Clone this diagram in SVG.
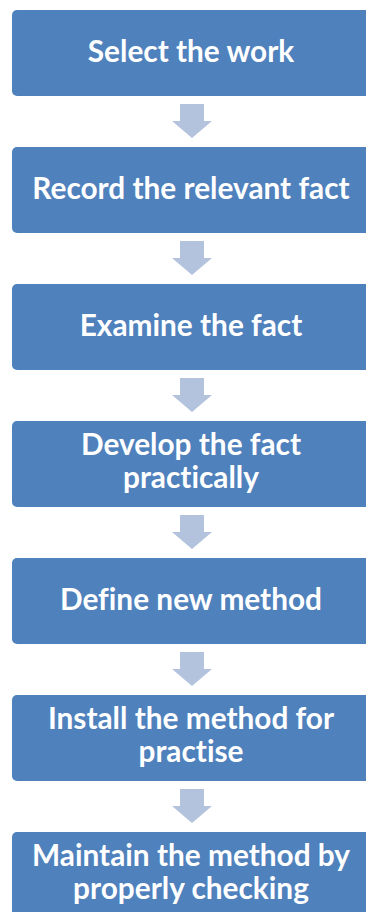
<svg xmlns="http://www.w3.org/2000/svg" width="366" height="912" viewBox="0 0 366 912">
<style>
.box{fill:#4F81BD;}
.arr{fill:#B3C2DD;}
text{font-family:Lato,"Open Sans","Liberation Sans",sans-serif;font-weight:bold;font-size:29.8px;fill:#FFFFFF;text-anchor:middle;font-variant-ligatures:none;}
</style>
<defs>
<path id="down" d="M-12,0 H12 V17 H20 L0,34 L-20,17 H-12 Z"/>
</defs>
<g id="connectors">
<use href="#down" class="arr" x="192" y="104"/>
<use href="#down" class="arr" x="192" y="241"/>
<use href="#down" class="arr" x="192" y="378"/>
<use href="#down" class="arr" x="192" y="515"/>
<use href="#down" class="arr" x="192" y="652"/>
<use href="#down" class="arr" x="192" y="789"/>
</g>
<g id="n1"><rect class="box" x="12" y="10" width="358" height="86" rx="5"/><text x="191" y="62">Select the work</text></g>
<g id="n2"><rect class="box" x="12" y="147" width="358" height="86" rx="5"/><text x="191" y="199">Record the relevant fact</text></g>
<g id="n3"><rect class="box" x="12" y="284" width="358" height="86" rx="5"/><text x="191" y="336">Examine the fact</text></g>
<g id="n4"><rect class="box" x="12" y="421" width="358" height="86" rx="5"/><text x="191" y="455">Develop the fact</text><text x="191" y="488">practically</text></g>
<g id="n5"><rect class="box" x="12" y="558" width="358" height="86" rx="5"/><text x="191" y="610">Define new method</text></g>
<g id="n6"><rect class="box" x="12" y="695" width="358" height="86" rx="5"/><text x="191" y="729">Install the method for</text><text x="191" y="762">practise</text></g>
<g id="n7"><rect class="box" x="12" y="832" width="358" height="86" rx="5"/><text x="191" y="866">Maintain the method by</text><text x="191" y="899">properly checking</text></g>
</svg>
